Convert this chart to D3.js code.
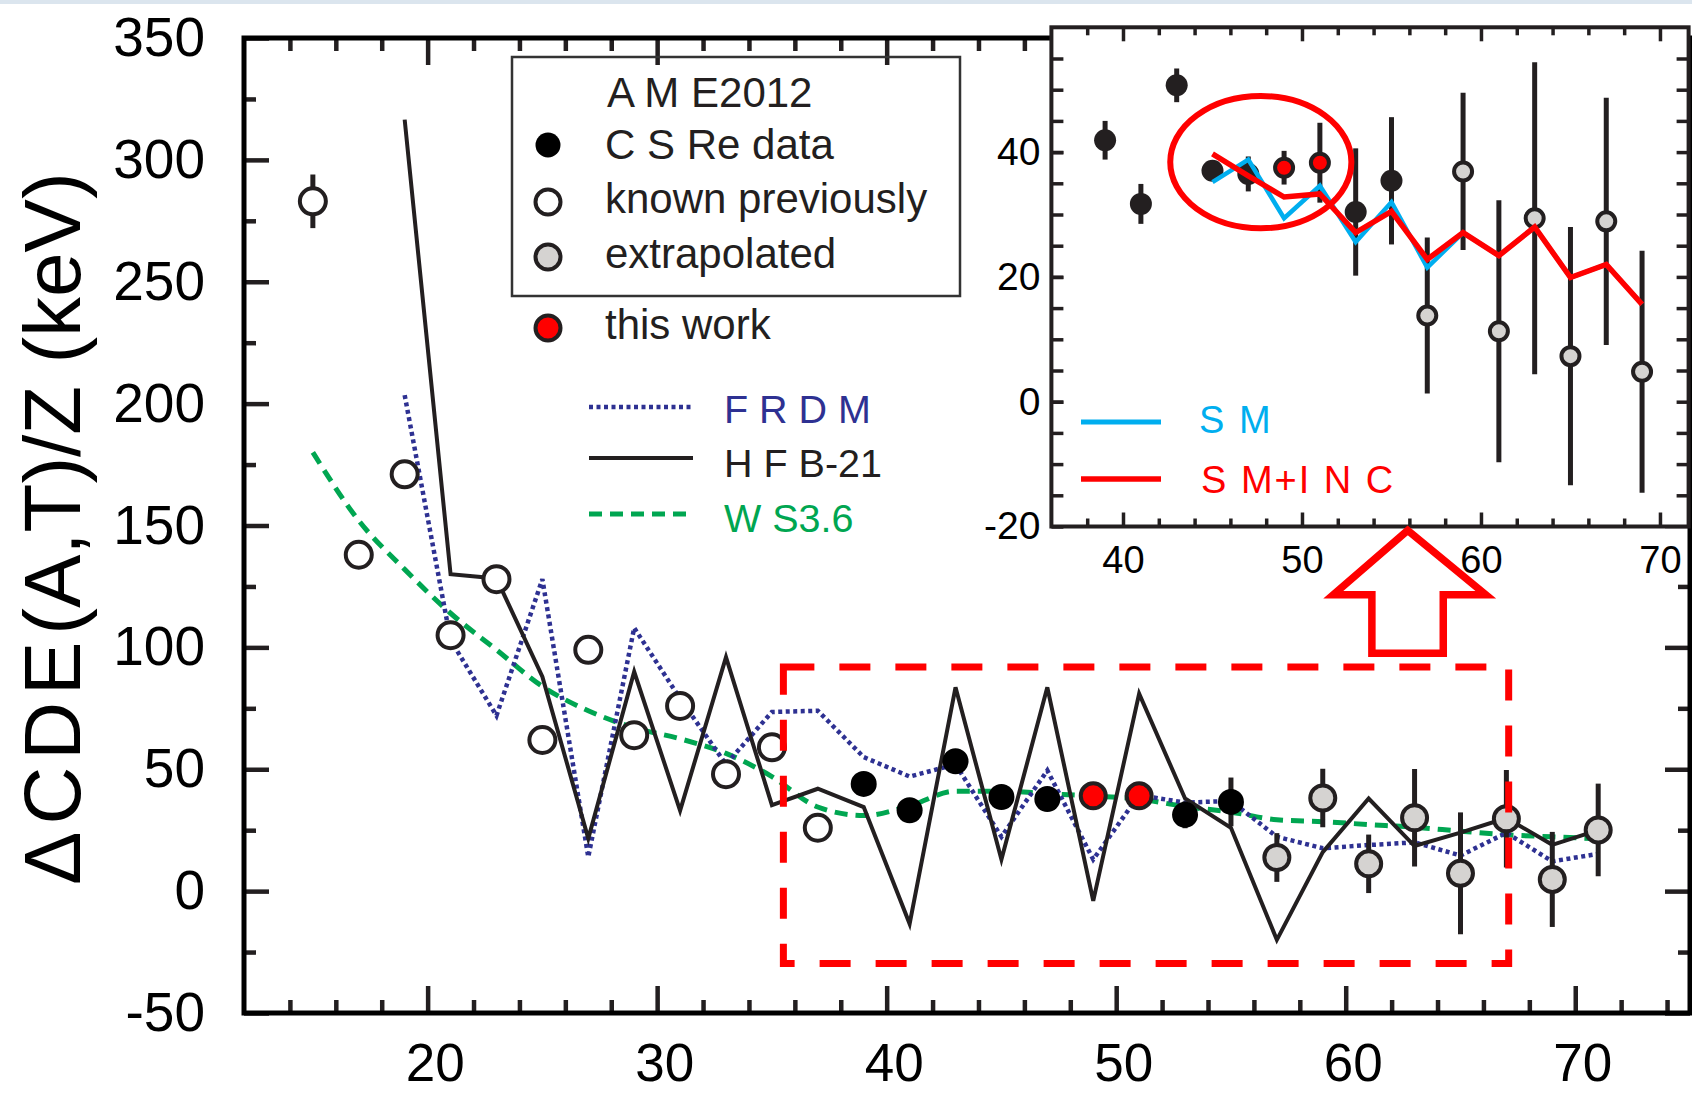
<!DOCTYPE html>
<html>
<head>
  <script src="https://d3js.org/d3.v7.min.js"></script>
  <title>Coulomb displacement energy</title>
  <style>
  body { margin: 0; background: white; }
  </style>
</head>
<body>
<svg id="chart" width="1692" height="1093"></svg>
<script>
// ---- main panel data: mass number A and value (keV) ----
var knownA   = [15, 17, 19, 21, 23, 25, 27, 29, 31, 33, 35, 37];
var knownV   = [283, 138, 171, 105, 128, 62, 99, 64, 76, 48, 59, 26];
var knownErr = [11, 1, 1, 1, 1, 1, 1, 1, 1, 1, 1, 1];

var csreA   = [39, 41, 43, 45, 47, 53, 55];
var csreV   = [44, 33.2, 53.3, 38.6, 37.8, 31.3, 36.6];
var csreErr = [3, 3, 2.5, 1, 2.5, 5.5, 10];

var thisA   = [49, 51];
var thisV   = [39.1, 39.1];
var thisErr = [2.5, 5];

var extrA   = [57, 59, 61, 63, 65, 67, 69, 71];
var extrV   = [13.8, 38.2, 11.2, 30.1, 7.3, 29.7, 4.8, 25.1];
var extrErr = [10, 12, 12, 20, 25, 20, 19.5, 19];

// model curves
var frdmA = d3.range(19, 72, 2);
var frdmV = [203.5, 103, 72, 128, 14, 108, 79, 52, 73.5, 74, 55, 47, 52, 22.3, 49.5, 13,
             39.4, 36.3, 37, 22.3, 17.6, 18.9, 20, 14.6, 23.9, 12.2, 15.3];
var hfbA = d3.range(19, 72, 2);
var hfbV = [316.5, 130, 128.3, 88, 21.6, 90, 33, 96, 35.3, 42, 34.5, -13.4, 83.6, 13, 83.6, -4,
            81, 38, 26, -20, 16, 38, 18.5, 24, 30, 19, 25];
var wsA = d3.range(15, 72, 2);
var wsV = [180, 152, 132, 114, 99, 84, 74, 67, 62.5, 56.5, 47, 34.5, 31, 35, 41, 41, 40, 39,
           37.8, 34.7, 32.4, 29.3, 28.5, 27.3, 26.2, 24.6, 23.1, 22.3, 21.5];

// ---- inset data ----
var inCsreA   = [39, 41, 43, 45, 47, 53, 55];
var inCsreV   = [41.9, 31.7, 50.7, 37, 36.5, 30.4, 35.4];
var inCsreErr = [3.1, 3.2, 2.7, 1, 2.8, 10.2, 10.2];
var inThisA   = [49, 51];
var inThisV   = [37.5, 38.3];
var inThisErr = [2.7, 6.4];
var inExtrA   = [57, 59, 61, 63, 65, 67, 69];
var inExtrV   = [13.8, 36.9, 11.3, 29.4, 7.3, 28.9, 4.8];
var inExtrErr = [12.5, 12.6, 21, 25, 20.7, 19.8, 19.4];

var smA    = d3.range(45, 70, 2);
var smV    = [35.2, 38.8, 29.4, 34.6, 25.6, 32, 21.5, 27.1, 23.4, 28, 19.9, 22, 15.6];
var smIncV = [39.7, 36.2, 32.8, 33.3, 27.1, 30.5, 22.8, 27.1, 23.4, 28, 19.9, 22, 15.6];

// annotations, in data units
var boxX = [35.5, 67.1], boxY = [-29.7, 92];
var arrowX = [62.7, 66.1, 64.25, 64.25, 61.14, 61.14, 59.46];
var arrowY = [148, 121.6, 121.6, 97.6, 97.6, 121.6, 121.6];
var ellipseC = [47.7, 38.4], ellipseR = [5.06, 10.6];

var FONT = "'Liberation Sans', Arial, Helvetica, sans-serif";
var ink = "#231f20";
var gray = "#d5d3d1";
var red = "#ff0000";
var navy = "#2e3192";
var green = "#00a651";
var sky = "#00aeef";

var svg = d3.select("#chart").attr("font-family", FONT);

svg.append("rect").attr("x", 0).attr("y", 0).attr("width", 1692).attr("height", 4)
  .attr("fill", "#dbe5ee");

// ---------- main panel ----------
var x = d3.scaleLinear().domain([12, 75]).range([244, 1690]);
var y = d3.scaleLinear().domain([-50, 350]).range([1013, 38]);

var xMajor = d3.range(20, 71, 10);
var xMinor = d3.range(14, 75, 2).filter(function(d) { return d % 10 != 0; });
var yMajor = d3.range(-50, 351, 50);
var yMinor = d3.range(-25, 326, 50);

function styleAxis(g, fs, sw) {
  g.attr("font-size", fs).attr("font-family", FONT);
  g.select(".domain").remove();
  g.selectAll(".tick line").attr("stroke", ink).attr("stroke-width", sw);
  g.selectAll(".tick text").attr("fill", "#000");
}
var noLabel = function() { return ""; };
var plain = function(d) { return String(d); };

var main = svg.append("g");

main.append("g").attr("transform", "translate(244,0)")
  .call(d3.axisLeft(y).tickValues(yMajor).tickSize(-25).tickPadding(39).tickFormat(plain))
  .call(styleAxis, 55, 4.5);
main.append("g").attr("transform", "translate(244,0)")
  .call(d3.axisLeft(y).tickValues(yMinor).tickSize(-12).tickFormat(noLabel))
  .call(styleAxis, 10, 4.5);
main.append("g").attr("transform", "translate(1690,0)")
  .call(d3.axisRight(y).tickValues(yMajor).tickSize(-25).tickFormat(noLabel))
  .call(styleAxis, 10, 4.5);
main.append("g").attr("transform", "translate(1690,0)")
  .call(d3.axisRight(y).tickValues(yMinor).tickSize(-12).tickFormat(noLabel))
  .call(styleAxis, 10, 4.5);
var xb = main.append("g").attr("transform", "translate(0,1013)")
  .call(d3.axisBottom(x).tickValues(xMajor).tickSize(-27).tickPadding(30).tickFormat(plain))
  .call(styleAxis, 53, 4.5);
xb.selectAll(".tick text").attr("dx", 7);
main.append("g").attr("transform", "translate(0,1013)")
  .call(d3.axisBottom(x).tickValues(xMinor).tickSize(-13).tickFormat(noLabel))
  .call(styleAxis, 10, 4.5);
main.append("g").attr("transform", "translate(0,38)")
  .call(d3.axisTop(x).tickValues(xMajor).tickSize(-27).tickFormat(noLabel))
  .call(styleAxis, 10, 4.5);
main.append("g").attr("transform", "translate(0,38)")
  .call(d3.axisTop(x).tickValues(xMinor).tickSize(-13).tickFormat(noLabel))
  .call(styleAxis, 10, 4.5);

main.append("rect").attr("x", x(12)).attr("y", y(350))
  .attr("width", x(75) - x(12)).attr("height", y(-50) - y(350))
  .attr("fill", "none").attr("stroke", "#000").attr("stroke-width", 5);

// y title
var yt = svg.append("text").attr("transform", "translate(80,885) rotate(-90)")
  .attr("font-size", 80).attr("fill", "#000");
yt.append("tspan").attr("letter-spacing", 7).text("\u0394CDE");
yt.append("tspan").text("(A,T)/Z (keV)");

// model curves
var line = d3.line().x(function(d) { return x(d[0]); }).y(function(d) { return y(d[1]); });
main.append("path").datum(d3.zip(wsA, wsV))
  .attr("d", line.curve(d3.curveMonotoneX))
  .attr("fill", "none").attr("stroke", green).attr("stroke-width", 5)
  .attr("stroke-dasharray", "13,8");
line.curve(d3.curveLinear);
main.append("path").datum(d3.zip(frdmA, frdmV)).attr("d", line)
  .attr("fill", "none").attr("stroke", navy).attr("stroke-width", 4.5)
  .attr("stroke-dasharray", "4,3.5");
main.append("path").datum(d3.zip(hfbA, hfbV)).attr("d", line)
  .attr("fill", "none").attr("stroke", ink).attr("stroke-width", 4)
  .attr("stroke-linejoin", "miter");

function drawPoints(g, xs, ys, A, V, E, r, fill, stroke, sw, ew) {
  var pts = d3.zip(A, V, E);
  g.selectAll(null).data(pts).enter().append("line")
    .attr("x1", function(d) { return xs(d[0]); })
    .attr("x2", function(d) { return xs(d[0]); })
    .attr("y1", function(d) { return ys(d[1] - d[2]); })
    .attr("y2", function(d) { return ys(d[1] + d[2]); })
    .attr("stroke", ink).attr("stroke-width", ew);
  g.selectAll(null).data(pts).enter().append("circle")
    .attr("cx", function(d) { return xs(d[0]); })
    .attr("cy", function(d) { return ys(d[1]); })
    .attr("r", r).attr("fill", fill)
    .attr("stroke", stroke).attr("stroke-width", sw);
}

drawPoints(main, x, y, knownA, knownV, knownErr, 13, "#fff", ink, 4, 5);
drawPoints(main, x, y, csreA, csreV, csreErr, 13, "#000", "none", 0, 5);
drawPoints(main, x, y, thisA, thisV, thisErr, 12.5, red, ink, 4, 5);
drawPoints(main, x, y, extrA, extrV, extrErr, 12.5, gray, ink, 4, 5);

// dashed box around the zoomed region
main.append("rect").attr("x", x(boxX[0])).attr("y", y(boxY[1]))
  .attr("width", x(boxX[1]) - x(boxX[0])).attr("height", y(boxY[0]) - y(boxY[1]))
  .attr("fill", "none").attr("stroke", red).attr("stroke-width", 7)
  .attr("stroke-dasharray", "31,25");

// legend (markers)
var leg = svg.append("g").attr("fill", ink);
leg.append("rect").attr("x", 512).attr("y", 57).attr("width", 448).attr("height", 239)
  .attr("fill", "none").attr("stroke", "#333").attr("stroke-width", 2.5);
leg.append("text").attr("x", 607).attr("y", 107).attr("font-size", 42).text("A M E2012");
var legItems = [
  {label: "C S Re data", y: 145, fill: "#000", stroke: "none", base: 159},
  {label: "known previously", y: 202, fill: "#fff", stroke: ink, base: 213},
  {label: "extrapolated", y: 257, fill: gray, stroke: ink, base: 268},
  {label: "this work", y: 328, fill: red, stroke: ink, base: 339}
];
legItems.forEach(function(d) {
  leg.append("circle").attr("cx", 548).attr("cy", d.y).attr("r", 12.5)
    .attr("fill", d.fill).attr("stroke", d.stroke).attr("stroke-width", 4);
  leg.append("text").attr("x", 605).attr("y", d.base).attr("font-size", 42).text(d.label);
});

// legend (models)
var models = [
  {label: "F R D M", y: 407, base: 423, color: navy, dash: "4,3.5", w: 4.5},
  {label: "H F B-21", y: 458, base: 477, color: ink, dash: null, w: 4},
  {label: "W S3.6", y: 514, base: 532, color: green, dash: "13,8", w: 5}
];
models.forEach(function(d) {
  leg.append("line").attr("x1", 589).attr("x2", 693).attr("y1", d.y).attr("y2", d.y)
    .attr("stroke", d.color).attr("stroke-width", d.w).attr("stroke-dasharray", d.dash);
  leg.append("text").attr("x", 724).attr("y", d.base).attr("font-size", 39.5)
    .attr("fill", d.color).text(d.label);
});

// ---------- inset ----------
var xi = d3.scaleLinear().domain([36, 71.6]).range([1051.4, 1688.6]);
var yi = d3.scaleLinear().domain([-20, 60]).range([526.5, 27.3]);
var inset = svg.append("g");

inset.append("rect").attr("x", xi(36)).attr("y", yi(60))
  .attr("width", xi(71.6) - xi(36)).attr("height", yi(-20) - yi(60)).attr("fill", "#fff");

var xiMajor = d3.range(40, 71, 10);
var xiMinor = d3.range(38, 71, 2).filter(function(d) { return d % 10 != 0; });
var yiTicks = d3.range(-15, 60, 5);

inset.append("g").attr("transform", "translate(" + xi(36) + ",0)")
  .call(d3.axisLeft(yi).tickValues([-20, 0, 20, 40]).tickSize(-12).tickPadding(11).tickFormat(plain))
  .call(styleAxis, 39, 3.5);
inset.append("g").attr("transform", "translate(" + xi(36) + ",0)")
  .call(d3.axisLeft(yi).tickValues(yiTicks).tickSize(-12).tickFormat(noLabel))
  .call(styleAxis, 10, 3.5);
inset.append("g").attr("transform", "translate(" + xi(71.6) + ",0)")
  .call(d3.axisRight(yi).tickValues(yiTicks).tickSize(-12).tickFormat(noLabel))
  .call(styleAxis, 10, 3.5);
inset.append("g").attr("transform", "translate(0," + yi(-20) + ")")
  .call(d3.axisBottom(xi).tickValues(xiMajor).tickSize(-14).tickPadding(20).tickFormat(plain))
  .call(styleAxis, 38, 3.5);
inset.append("g").attr("transform", "translate(0," + yi(-20) + ")")
  .call(d3.axisBottom(xi).tickValues(xiMinor).tickSize(-8).tickFormat(noLabel))
  .call(styleAxis, 10, 3.5);
inset.append("g").attr("transform", "translate(0," + yi(60) + ")")
  .call(d3.axisTop(xi).tickValues(xiMajor).tickSize(-14).tickFormat(noLabel))
  .call(styleAxis, 10, 3.5);
inset.append("g").attr("transform", "translate(0," + yi(60) + ")")
  .call(d3.axisTop(xi).tickValues(xiMinor).tickSize(-8).tickFormat(noLabel))
  .call(styleAxis, 10, 3.5);

drawPoints(inset, xi, yi, inCsreA, inCsreV, inCsreErr, 11, ink, "none", 0, 5);
drawPoints(inset, xi, yi, inThisA, inThisV, inThisErr, 9, red, ink, 4, 5);
drawPoints(inset, xi, yi, inExtrA, inExtrV, inExtrErr, 9, gray, ink, 4, 5);

var lineI = d3.line().x(function(d) { return xi(d[0]); }).y(function(d) { return yi(d[1]); });
inset.append("path").datum(d3.zip(smA, smV)).attr("d", lineI)
  .attr("fill", "none").attr("stroke", sky).attr("stroke-width", 4.5);
inset.append("path").datum(d3.zip(smA, smIncV)).attr("d", lineI)
  .attr("fill", "none").attr("stroke", red).attr("stroke-width", 5.5);

inset.append("ellipse")
  .attr("cx", xi(ellipseC[0])).attr("cy", yi(ellipseC[1]))
  .attr("rx", xi(ellipseC[0] + ellipseR[0]) - xi(ellipseC[0]))
  .attr("ry", yi(ellipseC[1] - ellipseR[1]) - yi(ellipseC[1]))
  .attr("fill", "none").attr("stroke", red).attr("stroke-width", 6);

inset.append("rect").attr("x", xi(36)).attr("y", yi(60))
  .attr("width", xi(71.6) - xi(36)).attr("height", yi(-20) - yi(60))
  .attr("fill", "none").attr("stroke", ink).attr("stroke-width", 4);

// inset legend
inset.append("line").attr("x1", 1081).attr("x2", 1161).attr("y1", 422).attr("y2", 422)
  .attr("stroke", sky).attr("stroke-width", 5);
inset.append("text").attr("x", 1199).attr("y", 433).attr("font-size", 38)
  .attr("letter-spacing", 2).attr("fill", sky).text("S M");
inset.append("line").attr("x1", 1081).attr("x2", 1161).attr("y1", 479).attr("y2", 479)
  .attr("stroke", red).attr("stroke-width", 5.5);
inset.append("text").attr("x", 1201).attr("y", 493).attr("font-size", 38)
  .attr("letter-spacing", 2).attr("fill", red).text("S M+I N C");

// arrow from the box up to the inset
svg.append("path")
  .attr("d", d3.line()(d3.zip(arrowX, arrowY).map(function(d) { return [x(d[0]), y(d[1])]; })) + "Z")
  .attr("fill", "none").attr("stroke", red).attr("stroke-width", 7.5)
  .attr("stroke-linejoin", "miter");
</script>
</body>
</html>
